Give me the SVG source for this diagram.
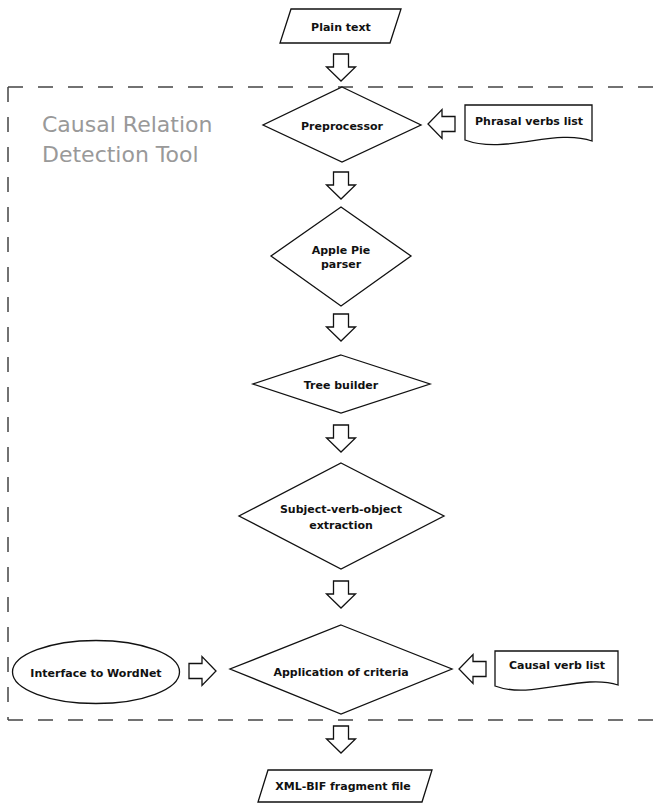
<svg xmlns="http://www.w3.org/2000/svg" xmlns:xlink="http://www.w3.org/1999/xlink" width="667" height="803" viewBox="0 0 667 803">
<style>
.shape{fill:#fff;stroke:#111;stroke-width:1.3}
.lbl{font-family:"DejaVu Sans",sans-serif;font-weight:bold;font-size:11px;fill:#111;text-anchor:middle}
.title{font-family:"DejaVu Sans",sans-serif;font-size:22px;fill:#999}
.dash{fill:none;stroke:#444;stroke-width:1.5;stroke-dasharray:15 15}
.arr{fill:#fff;stroke:#111;stroke-width:1.3;stroke-linejoin:miter}
</style>
<defs>
<path id="blk" d="M-7.5 0H7.5V13H14.5L0 27L-14.5 13H-7.5Z"/>
</defs>
<rect width="667" height="803" fill="#fff"/>
<g id="boundary">
<path class="dash" d="M8 87H667M8 720H667M8 87V720"/>
<text class="title" x="42" y="132">Causal Relation</text>
<text class="title" x="42" y="162">Detection Tool</text>
</g>
<g id="connectors">
<use xlink:href="#blk" class="arr" transform="translate(341,54)"/>
<use xlink:href="#blk" class="arr" transform="translate(341,172)"/>
<use xlink:href="#blk" class="arr" transform="translate(341,314)"/>
<use xlink:href="#blk" class="arr" transform="translate(341,425)"/>
<use xlink:href="#blk" class="arr" transform="translate(341,581)"/>
<use xlink:href="#blk" class="arr" transform="translate(341,726)"/>
<use xlink:href="#blk" class="arr" transform="translate(455,124) rotate(90)"/>
<use xlink:href="#blk" class="arr" transform="translate(486,669) rotate(90)"/>
<use xlink:href="#blk" class="arr" transform="translate(189,671) rotate(-90)"/>
</g>
<g id="plain-text">
<path class="shape" d="M291 9H401L390 43H280Z"/>
<text class="lbl" x="341" y="31">Plain text</text>
</g>
<g id="preprocessor">
<path class="shape" d="M342 87L421 125L342 162L263 125Z"/>
<text class="lbl" x="342" y="130">Preprocessor</text>
</g>
<g id="phrasal-verbs-list">
<path class="shape" d="M465 105H592V141C555 128 505 155 465 140Z"/>
<text class="lbl" x="529" y="125">Phrasal verbs list</text>
</g>
<g id="apple-pie-parser">
<path class="shape" d="M341 207L411 256L341 306L271 256Z"/>
<text class="lbl" x="341" y="254">Apple Pie</text>
<text class="lbl" x="341" y="268">parser</text>
</g>
<g id="tree-builder">
<path class="shape" d="M341 355L430 384L341 413L253 384Z"/>
<text class="lbl" x="341" y="389">Tree builder</text>
</g>
<g id="svo-extraction">
<path class="shape" d="M341 463L444 516L341 569L239 516Z"/>
<text class="lbl" x="341" y="513">Subject-verb-object</text>
<text class="lbl" x="341" y="529">extraction</text>
</g>
<g id="application-of-criteria">
<path class="shape" d="M341 625L452 669L341 714L230 669Z"/>
<text class="lbl" x="341" y="676">Application of criteria</text>
</g>
<g id="interface-to-wordnet">
<ellipse class="shape" cx="96" cy="672" rx="83.5" ry="31.5"/>
<text class="lbl" x="96" y="677">Interface to WordNet</text>
</g>
<g id="causal-verb-list">
<path class="shape" d="M495 651H618V685C582 673 532 700 495 686Z"/>
<text class="lbl" x="557" y="669">Causal verb list</text>
</g>
<g id="xml-bif">
<path class="shape" d="M268 770H432L422 802H258Z"/>
<text class="lbl" x="343" y="790">XML-BIF fragment file</text>
</g>
</svg>
